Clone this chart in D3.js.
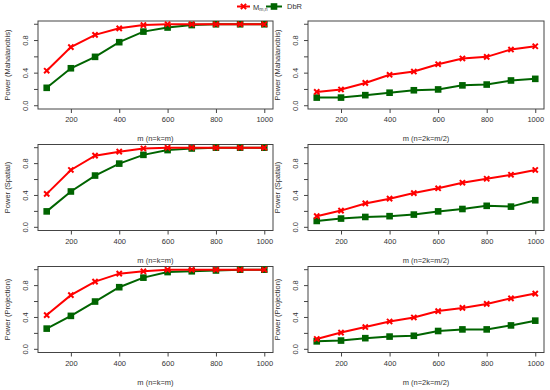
<!DOCTYPE html>
<html><head><meta charset="utf-8">
<script src="https://cdn.jsdelivr.net/npm/d3@7"></script>
<style>
body{margin:0;background:#fff;}
svg{display:block;font-family:"Liberation Sans",Arial,sans-serif;}
</style></head>
<body>
<svg id="c" width="550" height="390"></svg>
<script>
const mValues = [100,200,300,400,500,600,700,800,900,1000];
const xTicks = [200,400,600,800,1000];
const yTicks = [0,0.2,0.4,0.6,0.8,1.0];
const yTickLabels = ["0.0","","0.4","","0.8",""];
const seriesNames = ["M", "DbR"];
const rowTitles = ["Power (Mahalanobis)","Power (Spatial)","Power (Projection)"];
const colTitles = ["m (n=k=m)","m (n=2k=m/2)"];

const mahaEqM   = [0.43,0.72,0.87,0.95,0.99,1.00,1.00,1.00,1.00,1.00];
const mahaEqD   = [0.22,0.46,0.60,0.78,0.91,0.96,0.99,1.00,1.00,1.00];
const mahaHalfM = [0.17,0.20,0.28,0.38,0.42,0.51,0.58,0.60,0.69,0.73];
const mahaHalfD = [0.10,0.10,0.13,0.16,0.19,0.20,0.25,0.26,0.31,0.33];
const spatEqM   = [0.42,0.72,0.90,0.95,0.99,1.00,1.00,1.00,1.00,1.00];
const spatEqD   = [0.20,0.45,0.65,0.80,0.91,0.97,0.99,1.00,1.00,1.00];
const spatHalfM = [0.14,0.21,0.30,0.36,0.43,0.49,0.56,0.61,0.66,0.72];
const spatHalfD = [0.08,0.11,0.13,0.14,0.16,0.20,0.23,0.27,0.26,0.34];
const projEqM   = [0.43,0.68,0.85,0.95,0.98,1.00,1.00,1.00,1.00,1.00];
const projEqD   = [0.26,0.42,0.60,0.78,0.90,0.97,0.98,0.99,1.00,1.00];
const projHalfM = [0.13,0.21,0.28,0.35,0.40,0.48,0.52,0.57,0.64,0.70];
const projHalfD = [0.10,0.11,0.14,0.16,0.17,0.23,0.25,0.25,0.30,0.36];

const panels = [
  [mahaEqM, mahaEqD, mahaHalfM, mahaHalfD],
  [spatEqM, spatEqD, spatHalfM, spatHalfD],
  [projEqM, projEqD, projHalfM, projHalfD]
];

const RED = "#ff0000", GREEN = "#006400", AX = "#444", TXT = "#333";
const rowsY = [[21,109],[144.5,230.5],[266.5,352.5]];
const colsX = [[38,273],[308,544]];
const svg = d3.select("#c");

function xMark(g, x, y, s){
  g.append("path").attr("d",`M${x-s},${y-s}L${x+s},${y+s}M${x-s},${y+s}L${x+s},${y-s}`)
   .attr("stroke",RED).attr("stroke-width",2).attr("fill","none");
}
function sqMark(g, x, y, s){
  g.append("rect").attr("x",x-s).attr("y",y-s).attr("width",2*s).attr("height",2*s).attr("fill",GREEN);
}

rowsY.forEach((ry, r) => {
  colsX.forEach((cx, c) => {
    const x = d3.scaleLinear().domain([64,1036]).range(cx);
    const y = d3.scaleLinear().domain([-0.04,1.04]).range([ry[1], ry[0]]);
    const g = svg.append("g");
    // box
    g.append("rect").attr("x",cx[0]).attr("y",ry[0]).attr("width",cx[1]-cx[0]).attr("height",ry[1]-ry[0])
     .attr("fill","none").attr("stroke",AX).attr("stroke-width",1);
    // x axis
    const xa = g.append("g").attr("transform",`translate(0,${ry[1]})`)
      .call(d3.axisBottom(x).tickValues(xTicks).tickSize(4).tickPadding(4).tickFormat(d3.format("d")));
    xa.select(".domain").remove();
    xa.selectAll("line").attr("stroke",AX);
    xa.selectAll("text").attr("fill",TXT).style("font-size","7.5px").attr("font-family","Liberation Sans, Arial, sans-serif");
    // y axis
    const ya = g.append("g").attr("transform",`translate(${cx[0]},0)`)
      .call(d3.axisLeft(y).tickValues(yTicks).tickSize(4).tickFormat((d,i)=>yTickLabels[i]));
    ya.select(".domain").remove();
    ya.selectAll("line").attr("stroke",AX);
    ya.selectAll("text").attr("fill",TXT).style("font-size","7.5px").attr("font-family","Liberation Sans, Arial, sans-serif")
      .attr("text-anchor","middle").attr("dy","0")
      .attr("transform", d => `translate(${-13},${y(d)}) rotate(-90)`).attr("x",0).attr("y",0)
      .attr("dominant-baseline","central");
    ya.selectAll(".tick").attr("transform", d => `translate(0,${y(d)})`);
    ya.selectAll(".tick text").attr("transform", `translate(-13,0) rotate(-90)`);
    // axis titles
    g.append("text").attr("x",(cx[0]+cx[1])/2).attr("y",ry[1]+32).attr("text-anchor","middle")
      .attr("fill",TXT).style("font-size","7.5px").text(colTitles[c]);
    g.append("text").attr("transform",`translate(${cx[0]-31},${(ry[0]+ry[1])/2}) rotate(-90)`)
      .attr("text-anchor","middle").attr("dominant-baseline","central")
      .attr("fill",TXT).style("font-size","7.5px").text(rowTitles[r]);
    // series
    const mVals = panels[r][c*2], dVals = panels[r][c*2+1];
    const line = d3.line().x((d,i)=>x(mValues[i])).y(d=>y(d));
    g.append("path").datum(dVals).attr("d",line).attr("fill","none").attr("stroke",GREEN).attr("stroke-width",2);
    dVals.forEach((v,i)=>sqMark(g, x(mValues[i]), y(v), 3.3));
    g.append("path").datum(mVals).attr("d",line).attr("fill","none").attr("stroke",RED).attr("stroke-width",2);
    mVals.forEach((v,i)=>xMark(g, x(mValues[i]), y(v), 2.6));
  });
});

// legend
const lg = svg.append("g");
const ly = 6.5;
lg.append("line").attr("x1",237).attr("x2",250).attr("y1",ly).attr("y2",ly).attr("stroke",RED).attr("stroke-width",2);
xMark(lg, 243.5, ly, 2.6);
const t1 = lg.append("text").attr("x",253).attr("y",ly).attr("dominant-baseline","central").attr("fill",TXT).style("font-size","7.5px");
t1.append("tspan").text(seriesNames[0]);
t1.append("tspan").attr("dy",2).style("font-size","5px").text("m,n");
lg.append("line").attr("x1",266).attr("x2",282).attr("y1",ly).attr("y2",ly).attr("stroke",GREEN).attr("stroke-width",2);
sqMark(lg, 274, ly, 3.3);
lg.append("text").attr("x",287).attr("y",ly).attr("dominant-baseline","central").attr("fill",TXT).style("font-size","7.5px").text(seriesNames[1]);
</script>
</body></html>
